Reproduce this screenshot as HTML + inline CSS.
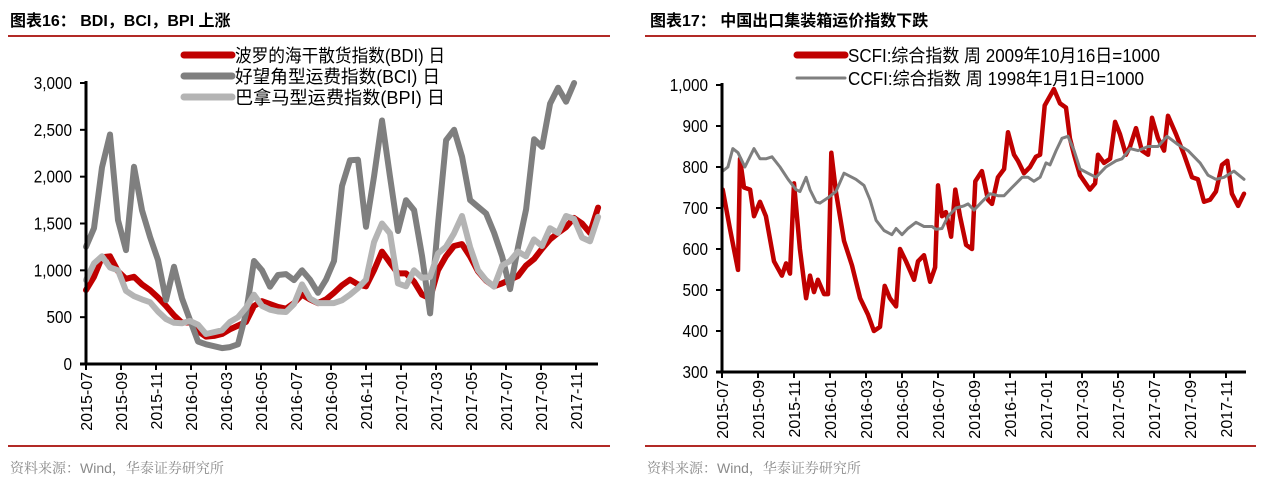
<!DOCTYPE html>
<html><head><meta charset="utf-8">
<style>
body{margin:0;width:1261px;height:485px;background:#fff;overflow:hidden;font-family:"Liberation Sans","Noto Sans CJK SC",sans-serif;}
svg{position:absolute;left:0;top:0;}
</style></head>
<body>
<svg id="chart" width="1261" height="485">
  <text x="10" y="26" font-size="16" font-weight="bold" fill="#000" font-family="Liberation Sans, Noto Sans CJK SC, sans-serif">图表16：  BDI，BCI，BPI 上涨</text>
  <line x1="8" y1="36" x2="610" y2="36" stroke="#b22a26" stroke-width="2"/>
  <line x1="8" y1="446" x2="610" y2="446" stroke="#b22a26" stroke-width="2"/>
  <text x="10" y="473" font-size="14" fill="#8a8a8a" font-family="Liberation Sans, Noto Serif CJK SC, sans-serif">资料来源：Wind，华泰证券研究所</text>

  <text x="650" y="26" font-size="16" font-weight="bold" fill="#000" font-family="Liberation Sans, Noto Sans CJK SC, sans-serif">图表17：  中国出口集装箱运价指数下跌</text>
  <line x1="645" y1="36" x2="1256" y2="36" stroke="#b22a26" stroke-width="2"/>
  <line x1="645" y1="446" x2="1256" y2="446" stroke="#b22a26" stroke-width="2"/>
  <text x="647" y="473" font-size="14" fill="#8a8a8a" font-family="Liberation Sans, Noto Serif CJK SC, sans-serif">资料来源：Wind，华泰证券研究所</text>
  <g id="left"></g>
  <g id="right"></g>
</svg>
<script>
// ---------- Left chart data (biweekly samples, months since 2015-07) ----------
const xTickLabels = ["2015-07","2015-09","2015-11","2016-01","2016-03","2016-05","2016-07","2016-09","2016-11","2017-01","2017-03","2017-05","2017-07","2017-09","2017-11"];
const leftYTicks = [0,500,1000,1500,2000,2500,3000];
const leftYTickLabels = ["0","500","1,000","1,500","2,000","2,500","3,000"];
const bdiValues = [789,931,1140,1150,990,910,931,850,789,710,620,520,440,450,350,292,300,320,370,410,450,620,670,640,610,590,650,740,690,650,690,760,840,900,850,830,1000,1200,1080,967,967,880,740,700,1000,1150,1260,1280,1150,990,890,830,860,900,940,1050,1120,1230,1330,1400,1460,1560,1500,1400,1670];
const bdiSpanMonths = 29.26;
const bciValues = [1251,1450,2100,2450,1536,1216,2105,1642,1358,1109,683,1038,700,469,240,210,190,170,180,210,540,1100,1000,825,950,960,896,1000,900,760,900,1100,1900,2176,2180,1465,2000,2600,2000,1420,1749,1642,1150,540,1500,2389,2500,2211,1750,1678,1607,1400,1150,800,1251,1650,2400,2318,2780,2950,2800,3000];
const bciSpanMonths = 27.89;
const bpiValues = [896,1074,1150,1030,1000,780,725,690,660,560,480,440,434,460,420,320,340,360,450,500,600,740,620,580,560,555,640,850,700,650,650,650,680,740,810,900,1300,1500,1394,860,830,1000,920,930,1180,1251,1394,1580,1251,1003,896,825,1050,1100,1200,1150,1330,1260,1450,1400,1580,1550,1350,1310,1571];
const bpiSpanMonths = 29.26;

// ---------- Right chart data ----------
const rightYTicks = [300,400,500,600,700,800,900,1000];
const rightYTickLabels = ["300","400","500","600","700","800","900","1,000"];
const scfiMonths = [0.04,0.44,0.89,1.0,1.22,1.56,1.78,2.11,2.44,2.89,3.33,3.56,3.78,4.0,4.33,4.67,4.89,5.11,5.33,5.67,5.89,6.07,6.33,6.78,7.22,7.67,8.11,8.44,8.78,9.04,9.33,9.67,9.89,10.22,10.67,10.89,11.22,11.56,11.84,12.0,12.22,12.44,12.73,12.96,13.22,13.56,13.89,14.07,14.44,14.78,15.0,15.33,15.67,15.89,16.22,16.44,16.78,17.11,17.44,17.67,17.93,18.44,18.78,19.11,19.33,19.56,19.89,20.44,20.73,20.89,21.22,21.56,21.84,22.11,22.44,22.67,23.0,23.33,23.67,23.89,24.22,24.56,24.78,25.22,25.67,26.11,26.44,26.78,27.11,27.44,27.78,28.07,28.33,28.67,29.0];
const scfiValues = [745,650,549,820,750,745,680,715,680,570,535,565,540,760,600,480,535,495,525,490,490,835,740,620,560,480,440,400,410,510,480,460,600,570,525,570,585,520,555,755,680,690,630,745,680,610,600,765,790,720,710,775,795,885,830,815,785,800,825,830,950,990,955,945,870,830,780,745,760,830,810,820,910,880,830,850,895,840,830,920,870,840,925,880,830,775,770,715,720,740,805,815,735,705,735];
const ccfiMonths = [0.04,0.33,0.6,0.89,1.27,1.78,2.11,2.44,2.78,3.22,3.67,4.11,4.33,4.67,4.89,5.22,5.44,5.89,6.33,6.78,7.44,7.89,8.22,8.56,9.0,9.44,9.67,10.0,10.33,10.78,11.22,11.67,11.89,12.22,12.56,13.0,13.44,13.67,14.0,14.44,14.89,15.33,15.67,16.11,16.67,17.0,17.33,17.67,18.0,18.22,18.56,18.89,19.22,19.56,19.89,20.33,20.78,21.33,21.89,22.22,22.67,23.11,23.67,24.22,24.73,25.33,25.89,26.56,27.0,27.44,27.89,28.44,29.0];
const ccfiValues = [790,800,845,835,800,845,820,820,825,800,770,745,740,775,745,715,712,725,740,785,770,755,720,670,645,635,650,635,650,665,655,655,648,650,680,700,705,710,695,715,735,730,730,750,775,775,765,775,810,805,840,870,875,840,795,785,775,800,815,820,845,840,850,850,875,855,840,810,780,770,775,790,770];

const NS="http://www.w3.org/2000/svg";
function mk(parent,tag,attrs){const e=document.createElementNS(NS,tag);for(const k in attrs)e.setAttribute(k,attrs[k]);parent.appendChild(e);return e;}
const FONT='"Liberation Sans Narrow","Liberation Sans",sans-serif';

function drawAxes(g,cfg){
  const {x0,x1,yTop,yBot,yMin,yMax,monthPx,yTicks,yLabels}=cfg;
  const ys=v=>yBot-(v-yMin)/(yMax-yMin)*(yBot-yTop);
  const xs=m=>x0+m*monthPx;
  yTicks.forEach((v,i)=>{
    const t=mk(g,'text',{x:0,y:0,'text-anchor':'end','font-size':18,'font-family':FONT,fill:'#000',transform:`translate(${x0-14},${ys(v)+6}) scale(0.85,1)`});
    t.textContent=yLabels[i];
    
    
    const tk=mk(g,'line',{x1:x0-6,x2:x0,y1:ys(v),y2:ys(v),stroke:'#000','stroke-width':2});
    
    
  });
  xTickLabels.forEach((lab,i)=>{
    const x=xs(i*2);
    const tk=mk(g,'line',{x1:x,x2:x,y1:yBot,y2:yBot+6,stroke:'#000','stroke-width':2});
    
    
    const t=mk(g,'text',{x:0,y:0,'text-anchor':'end','font-size':16,'font-family':'"Liberation Sans",sans-serif',fill:'#000',transform:`translate(${x+6},${yBot+8}) rotate(-90)`});
    t.textContent=lab;
    
    
  });
  return {xs,ys};
}
function finishAxes(g,cfg){
  const ya=mk(g,'line',{x1:cfg.x0,x2:cfg.x0,y1:cfg.yTop-2,y2:cfg.yBot,stroke:'#000','stroke-width':3});
  
  
  const xa=mk(g,'line',{x1:cfg.x0-6,x2:cfg.x1,y1:cfg.yBot,y2:cfg.yBot,stroke:'#000','stroke-width':3});
  
  
}
function line(g,pts,color,w,name,clipTop){
  const d=pts.map((p,i)=>(i?'L':'M')+p[0].toFixed(1)+','+Math.max(clipTop,p[1]).toFixed(1)).join('');
  const p=mk(g,'path',{d,fill:'none',stroke:color,'stroke-width':w,'stroke-linejoin':'round','stroke-linecap':'round'});
  
  
}
function legend(g,x,y,color,w,label,name,len){
  const l=mk(g,'line',{x1:x,x2:x+48,y1:y,y2:y,stroke:color,'stroke-width':w,'stroke-linecap':'round'});
  
  
  const t=mk(g,'text',{x:x+51,y:y+7,'font-size':18,'font-family':'"Liberation Sans","Noto Sans CJK SC",sans-serif',fill:'#000',textLength:len,lengthAdjust:'spacingAndGlyphs'});
  t.textContent=label;
  
  
}

// Left chart
const L=document.getElementById('left');


const lc={x0:86,x1:598,yTop:83,yBot:364,yMin:0,yMax:3000,monthPx:17.5,yTicks:leftYTicks,yLabels:leftYTickLabels};
const la=drawAxes(L,lc);
function evenPts(vals,span){return vals.map((v,i)=>[la.xs(i*span/(vals.length-1)),la.ys(v)]);}
line(L,evenPts(bdiValues,bdiSpanMonths),'#c00000',6,'bdi-line',lc.yTop);
line(L,evenPts(bciValues,bciSpanMonths),'#7f7f7f',6,'bci-line',lc.yTop);
line(L,evenPts(bpiValues,bpiSpanMonths),'#b4b4b4',6,'bpi-line',lc.yTop);
finishAxes(L,lc);
legend(L,184,55,'#c00000',7,'波罗的海干散货指数(BDI) 日','legend-bdi',210);
legend(L,184,76,'#7f7f7f',7,'好望角型运费指数(BCI) 日','legend-bci',205);
legend(L,184,97,'#b4b4b4',7,'巴拿马型运费指数(BPI) 日','legend-bpi',210);

// Right chart
const R=document.getElementById('right');


const rc={x0:722,x1:1246,yTop:85,yBot:372,yMin:300,yMax:1000,monthPx:18,yTicks:rightYTicks,yLabels:rightYTickLabels};
const ra=drawAxes(R,rc);
line(R,scfiMonths.map((m,i)=>[ra.xs(m),ra.ys(scfiValues[i])]),'#c00000',4.5,'scfi-line',rc.yTop);
line(R,ccfiMonths.map((m,i)=>[ra.xs(m),ra.ys(ccfiValues[i])]),'#7f7f7f',3,'ccfi-line',rc.yTop);
finishAxes(R,rc);
legend(R,797,55,'#c00000',7,'SCFI:综合指数 周 2009年10月16日=1000','legend-scfi',312);
legend(R,797,78,'#7f7f7f',3,'CCFI:综合指数 周 1998年1月1日=1000','legend-ccfi',296);
</script>
</body></html>
